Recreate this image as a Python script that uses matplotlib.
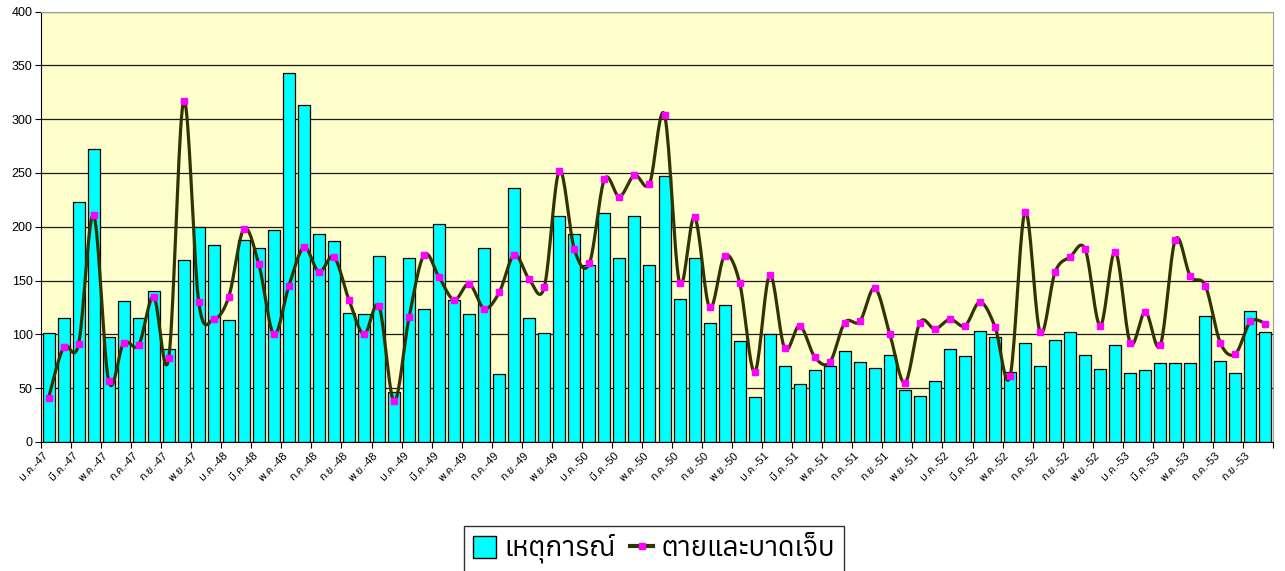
import numpy as np
import matplotlib
matplotlib.use('Agg')
import matplotlib.pyplot as plt
import matplotlib.transforms as mtransforms
from matplotlib import font_manager
from matplotlib.ft2font import FT2Font
from matplotlib.lines import Line2D
from matplotlib.patches import Patch

# monthly counts, ม.ค.-47 .. ต.ค.-53
incidents = [101, 115, 223, 272, 98, 131, 115, 140, 86, 169, 200, 183,
             113, 188, 180, 197, 343, 313, 193, 187, 120, 119, 173, 46,
             171, 124, 203, 132, 119, 180, 63, 236, 115, 101, 210, 193,
             164, 213, 171, 210, 164, 247, 133, 171, 111, 127, 94, 42,
             100, 71, 54, 67, 71, 85, 74, 69, 81, 48, 43, 57,
             86, 80, 103, 98, 65, 92, 71, 95, 102, 81, 68, 90,
             64, 67, 73, 73, 73, 117, 75, 64, 122, 102]
casualties = [41, 88, 91, 211, 57, 92, 90, 135, 78, 317, 130, 114,
              135, 198, 165, 100, 145, 181, 158, 172, 132, 100, 126, 38,
              116, 174, 153, 132, 147, 124, 139, 174, 151, 144, 252, 179,
              166, 244, 228, 248, 240, 304, 148, 209, 125, 173, 148, 65,
              155, 87, 108, 79, 74, 111, 112, 143, 100, 55, 111, 105,
              114, 108, 130, 107, 61, 214, 102, 158, 172, 179, 108, 177,
              92, 121, 90, 188, 154, 145, 92, 82, 112, 110]
months = ['ม.ค.', 'ก.พ.', 'มี.ค.', 'เม.ย.', 'พ.ค.', 'มิ.ย.',
          'ก.ค.', 'ส.ค.', 'ก.ย.', 'ต.ค.', 'พ.ย.', 'ธ.ค.']
years = ['47', '48', '49', '50', '51', '52', '53']
labels = [m + '-' + y for y in years for m in months][:len(incidents)]
legend_labels = ['เหตุการณ์', 'ตายและบาดเจ็บ']


def thai_fonts():
    found = set()
    for f in font_manager.fontManager.ttflist:
        try:
            cmap = FT2Font(f.fname).get_charmap()
        except Exception:
            continue
        if 0x0E01 in cmap and 0x0E38 in cmap:
            found.add(f.name)
    return found


def pick(found, preferred):
    for name in preferred:
        if name in found:
            return name
    return next(iter(found), 'DejaVu Sans')


def smooth(xv, yv, n=20):
    # excel-like smoothed line: catmull-rom as cubic bezier
    p = np.column_stack([xv, yv]).astype(float)
    p = np.vstack([p[0], p, p[-1]])
    out = []
    t = np.linspace(0, 1, n)[:, None]
    for i in range(1, len(p) - 2):
        p0, p1, p2, p3 = p[i - 1], p[i], p[i + 1], p[i + 2]
        b1 = p1 + (p2 - p0) / 6
        b2 = p2 - (p3 - p1) / 6
        seg = ((1 - t) ** 3) * p1 + 3 * ((1 - t) ** 2) * t * b1 + 3 * (1 - t) * t ** 2 * b2 + t ** 3 * p2
        out.append(seg if i == 1 else seg[1:])
    out = np.vstack(out)
    return out[:, 0], out[:, 1]


found = thai_fonts()
tick_thai = pick(found, ['Noto Sans Thai', 'Loma', 'Noto Sans Thai UI'])
legend_thai = pick(found, ['Anuphan', 'Noto Sans Thai', 'Kanit'])

fig = plt.figure(figsize=(12.85, 5.71), dpi=100)
ax = fig.add_axes([41 / 1285, 1 - 442 / 571, 1232 / 1285, 430.5 / 571])
ax.set_facecolor('#FFFFCC')

x = np.arange(len(incidents))
ax.bar(x, incidents, width=0.8, color='#00FFFF', edgecolor='black', linewidth=0.9, zorder=2)
sx, sy = smooth(x, casualties)
ax.plot(sx, sy, color='#333300', lw=2.3, zorder=3, solid_capstyle='round')
ax.plot(x, casualties, ls='none', marker='s', ms=5, mfc='#FF00FF', mec='#FF00FF', zorder=4)

ax.set_xlim(-0.5, len(incidents) - 0.5)
ax.set_ylim(0, 400)
ax.set_yticks(range(0, 401, 50))
ax.yaxis.grid(True, color='#1a1a1a', lw=0.9, zorder=1)
ax.set_axisbelow(True)
ax.tick_params(axis='y', direction='out', length=4, width=0.8, labelsize=9, pad=2)
for lab in ax.get_yticklabels():
    lab.set_family('Liberation Sans')

ax.set_xticks(x[::2])
ax.set_xticklabels(labels[::2], rotation=45, ha='right', va='top', rotation_mode='anchor',
                   fontsize=8, family=['Liberation Sans', tick_thai])
ax.tick_params(axis='x', which='major', length=0, pad=6)
shift = mtransforms.ScaledTranslation(-6 / 100, 0, fig.dpi_scale_trans)
for lab in ax.get_xticklabels():
    lab.set_transform(lab.get_transform() + shift)
ax.set_xticks(np.arange(-0.5, len(incidents), 2), minor=True)
ax.tick_params(axis='x', which='minor', direction='out', length=4, width=0.8)

for s in ['left', 'bottom']:
    ax.spines[s].set_color('black')
for s in ['top', 'right']:
    ax.spines[s].set_color('#a0a0a0')

handles = [Patch(facecolor='#00FFFF', edgecolor='black', linewidth=1),
           Line2D([], [], color='#333300', lw=3, marker='s', ms=5,
                  mfc='#FF00FF', mec='#FF00FF')]
leg = fig.legend(handles, legend_labels, ncol=2, loc='upper center',
                 bbox_to_anchor=(654 / 1285, 1 - 526 / 571), frameon=True, fancybox=False,
                 edgecolor='black', prop={'family': legend_thai, 'size': 20, 'weight': 'bold'},
                 handlelength=0.85, handleheight=0.85, handletextpad=0.3,
                 columnspacing=0.5, borderpad=0.3, borderaxespad=0)
leg.get_frame().set_linewidth(1)

fig.savefig('out.png', dpi=100)
